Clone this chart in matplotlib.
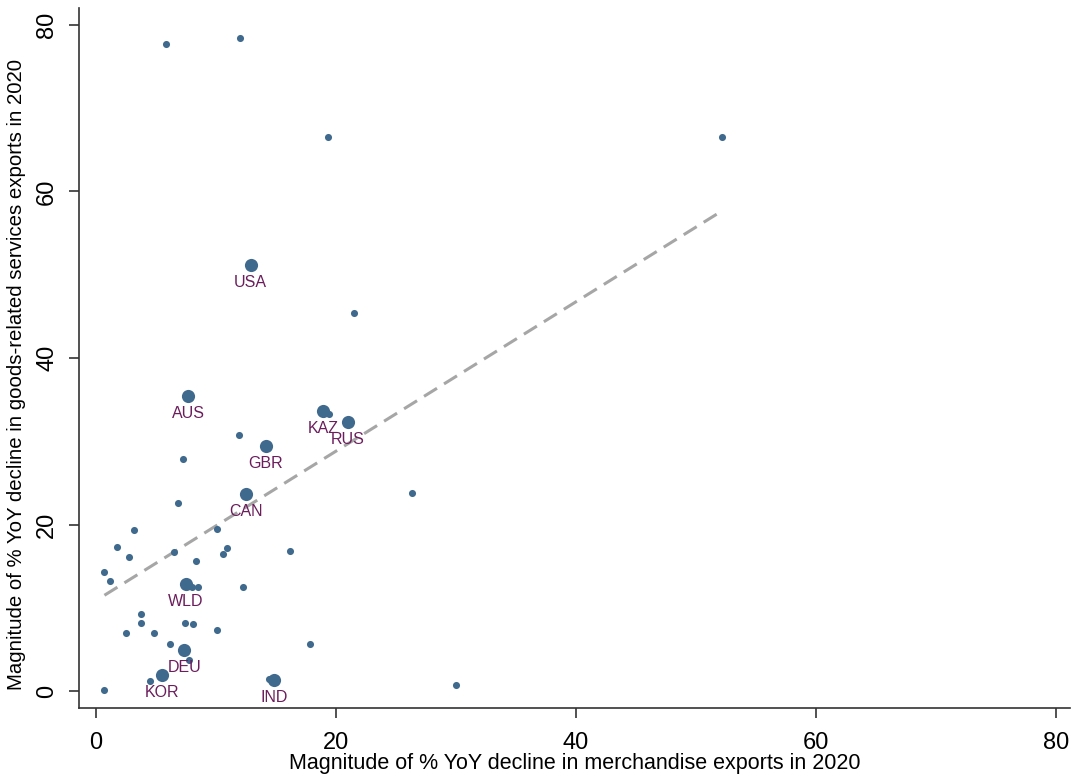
import numpy as np
import matplotlib
matplotlib.use("Agg")
import matplotlib.pyplot as plt

plt.rcParams['font.family'] = ['Liberation Sans', 'DejaVu Sans']

# unlabelled economies (small dots)
small_x = [5.83, 12.0, 19.36, 52.19, 21.48, 11.89, 7.23, 26.31, 6.79, 3.14,
           10.08, 1.73, 10.94, 10.58, 2.78, 6.5, 16.19, 8.31, 0.67, 1.19,
           7.98, 8.53, 12.23, 3.75, 3.73, 7.44, 8.11, 2.48, 4.83, 10.08,
           17.83, 6.17, 7.75, 4.53, 14.44, 0.64, 30.0, 19.44]
small_y = [77.68, 78.47, 66.58, 66.58, 45.37, 30.71, 27.90, 23.82, 22.56, 19.38,
           19.42, 17.30, 17.18, 16.49, 16.06, 16.70, 16.85, 15.58, 14.33, 13.21,
           12.46, 12.46, 12.46, 9.29, 8.13, 8.13, 8.01, 6.93, 6.97, 7.33,
           5.65, 5.68, 3.69, 1.20, 1.44, 0.16, 0.68, 33.27]

# labelled economies (large dots)
big_names = ['USA', 'AUS', 'GBR', 'CAN', 'KAZ', 'RUS', 'WLD', 'DEU', 'KOR', 'IND']
big_x = [12.89, 7.67, 14.14, 12.5, 18.92, 20.97, 7.5, 7.36, 5.5, 14.86]
big_y = [51.17, 35.44, 29.39, 23.63, 33.67, 32.28, 12.85, 4.92, 1.96, 1.32]

# fitted line, ends
fit_x = [0.7, 52.2]
fit_y = [11.5, 57.7]

ticks = [0, 20, 40, 60, 80]

dot_color = '#3f6a8e'
label_color = '#6b1d5c'

fig = plt.figure(figsize=(10.76, 7.79), dpi=100)
ax = fig.add_axes([79 / 1076, 71 / 779, 991 / 1076, 700 / 779])

ax.plot(fit_x, fit_y, color='#a6a6a6', lw=2.2, linestyle=(0, (5.0, 2.7)), zorder=1)
ax.scatter(small_x, small_y, s=26, color=dot_color, linewidths=0, zorder=2)
ax.scatter(big_x, big_y, s=90, color=dot_color, linewidths=0, zorder=2)

# names sit just under their dot
for name, x, y in zip(big_names, big_x, big_y):
    ax.annotate(name, (x, y), xytext=(0, -12.5), textcoords='offset points',
                ha='center', va='center', fontsize=11.5, color=label_color)

ax.set_xlim(-1.42, 81.17)
ax.set_ylim(-2.04, 82.04)
ax.set_xticks(ticks)
ax.set_yticks(ticks)

for side in ['top', 'right']:
    ax.spines[side].set_visible(False)
for side in ['left', 'bottom']:
    ax.spines[side].set_linewidth(1.2)
    ax.spines[side].set_color('#333333')

ax.tick_params(axis='both', direction='out', length=7, width=1.2,
               color='#333333', labelsize=17)
ax.tick_params(axis='x', pad=10)
ax.tick_params(axis='y', labelrotation=90, pad=8)
for lab in ax.get_yticklabels():
    lab.set_va('center')

ax.set_xlabel('Magnitude of % YoY decline in merchandise exports in 2020', fontsize=15.5)
ax.set_ylabel('Magnitude of % YoY decline in goods-related services exports in 2020', fontsize=14.7)
ax.xaxis.set_label_coords(0.5, -0.065)
ax.yaxis.set_label_coords(-0.053, 0.476)

fig.savefig('out.png', dpi=100)
